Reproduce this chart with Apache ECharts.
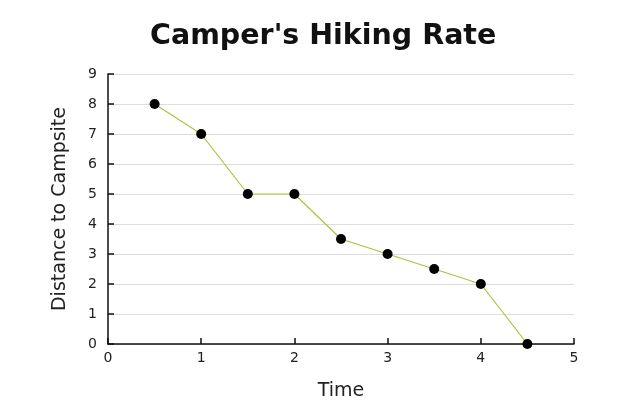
<!DOCTYPE html>
<html>
<head>
<meta charset="utf-8">
<script src="https://cdn.jsdelivr.net/npm/echarts@6/dist/echarts.min.js"></script>
<style>
  html, body { margin: 0; padding: 0; background: #fff; }
  #chart { width: 624px; height: 412px; }
</style>
</head>
<body>
<div id="chart"></div>
<script>
// data
const times = [0.5, 1, 1.5, 2, 2.5, 3, 3.5, 4, 4.5];
const distances = [8, 7, 5, 5, 3.5, 3, 2.5, 2, 0];

const points = times.map((t, i) => [t, distances[i]]);

const chart = echarts.init(document.getElementById('chart'));

const axisFont = {
    color: '#222',
    fontSize: 14,
    fontFamily: 'DejaVu Sans',
};

chart.setOption({
    animation: false,
    title: {
        text: "Camper's Hiking Rate",
        left: 145,
        top: 17,
        textStyle: {
            fontFamily: 'DejaVu Sans',
            fontWeight: 'bold',
            fontSize: 28.5,
            color: '#111',
        },
    },
    grid: {
        left: 108,
        right: 50,
        top: 74,
        bottom: 68,
    },
    xAxis: {
        type: 'value',
        min: 0,
        max: 5,
        interval: 1,
        name: 'Time',
        nameLocation: 'middle',
        nameGap: 38,
        nameTextStyle: { fontFamily: 'DejaVu Sans', fontSize: 19, color: '#222' },
        axisLine: { show: true, lineStyle: { color: '#111', width: 1.5 } },
        axisTick: { show: true, inside: true, length: 6, lineStyle: { color: '#111', width: 1.5 } },
        axisLabel: { ...axisFont, margin: 7 },
        splitLine: { show: false },
    },
    yAxis: {
        type: 'value',
        min: 0,
        max: 9,
        interval: 1,
        name: 'Distance to Campsite',
        nameLocation: 'middle',
        nameGap: 38,
        nameTextStyle: { fontFamily: 'DejaVu Sans', fontSize: 19, color: '#222' },
        axisLine: { show: true, lineStyle: { color: '#111', width: 1.5 } },
        axisTick: { show: true, inside: true, length: 6, lineStyle: { color: '#111', width: 1.5 } },
        axisLabel: { ...axisFont, margin: 11 },
        splitLine: { show: true, lineStyle: { color: '#ddd', width: 1 } },
    },
    series: [
        {
            type: 'line',
            data: points,
            symbol: 'circle',
            symbolSize: 10,
            lineStyle: { color: '#a6c63c', width: 1.2 },
            itemStyle: { color: '#000' },
        },
    ],
});
</script>
</body>
</html>
